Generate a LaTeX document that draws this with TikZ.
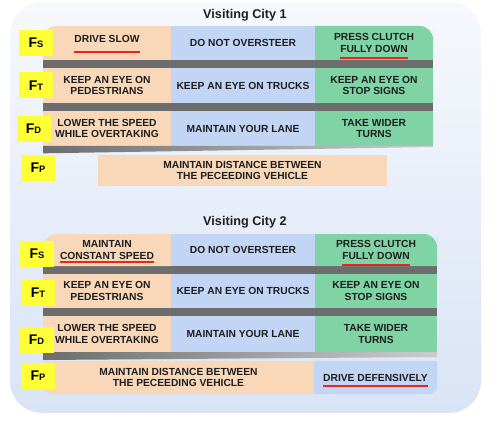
\documentclass[tikz,border=0pt]{standalone}
\usepackage{fontspec}
\setmainfont{Liberation Sans}
\usetikzlibrary{positioning}

\pgfdeclarelayer{back}
\pgfsetlayers{back,main}

\definecolor{peach}{HTML}{F8D8B9}
\definecolor{skyblue}{HTML}{C2D5F5}
\definecolor{mint}{HTML}{7FD3A5}
\definecolor{hilite}{HTML}{FFFF38}
\definecolor{bargray}{HTML}{6D6D6D}
\definecolor{ulred}{HTML}{E8261E}
\definecolor{inkc}{HTML}{1E1E1E}
\definecolor{panelTop}{HTML}{F6F8FC}
\definecolor{panelBot}{HTML}{D9E4F6}

\newcommand\px{0.75pt}
\newcommand\fsub[1]{{\fontsize{7}{8}\selectfont #1}}
\newcommand\redul[2][4.5pt]{\setbox0=\hbox{#2}\rlap{\smash{\color{ulred}\rule[-#1]{\wd0}{1.5pt}}}\box0}

\begin{document}
\begin{tikzpicture}[x=0.75pt, y=-0.75pt,
        cellbox/.style={inner sep=0pt, outer sep=0pt, align=center, text=inkc, font=\fontsize{7.7}{8.8}\selectfont\bfseries},
        colw/.style={minimum width=#1*\px},
        rowh/.style={minimum height=#1*\px},
        peachcell/.style={cellbox, fill=peach},
        bluecell/.style={cellbox, fill=skyblue},
        mintcell/.style={cellbox, fill=mint},
        flabel/.style={fill=hilite, inner sep=0pt, minimum width=34*\px, minimum height=26*\px, text=black, font=\fontsize{10.5}{12}\selectfont\bfseries},
        city/.style={text=inkc, font=\fontsize{9.5}{11}\selectfont\bfseries},
        taper/.style={left color=bargray, right color=bargray!35!white}
    ]
    \useasboundingbox (0,0) rectangle (496,424);

    % city 1
    \node[city] (city1) at (245,15) {Visiting City 1};
    \node[peachcell, fill=none, colw=128, rowh=34, anchor=north west, text depth=6pt] (s1a) at (43,26) {\redul[8pt]{DRIVE SLOW}};
    \node[bluecell, colw=144, rowh=34, right=0pt of s1a] (s1b) {DO NOT OVERSTEER};
    \node[mintcell, fill=none, colw=118, rowh=34, right=0pt of s1b] (s1c) {PRESS CLUTCH\\\redul[5.2pt]{FULLY DOWN}};

    \node[peachcell, colw=128, rowh=35, anchor=north west] (t1a) at ([yshift=-6pt]s1a.south west) {KEEP AN EYE ON\\PEDESTRIANS};
    \node[bluecell, colw=144, rowh=35, right=0pt of t1a] (t1b) {KEEP AN EYE ON TRUCKS};
    \node[mintcell, colw=118, rowh=35, right=0pt of t1b] (t1c) {KEEP AN EYE ON\\STOP SIGNS};

    \node[peachcell, colw=128, rowh=35, anchor=north west] (d1a) at ([yshift=-6pt]t1a.south west) {LOWER THE SPEED\\WHILE OVERTAKING};
    \node[bluecell, colw=144, rowh=35, right=0pt of d1a] (d1b) {MAINTAIN YOUR LANE};
    \node[mintcell, colw=118, rowh=35, right=0pt of d1b] (d1c) {TAKE WIDER\\TURNS};

    \shade[taper] (d1a.south west) -- (d1c.south east) -- ++(0,1) -- ([yshift=-5.5pt]d1a.south west) -- cycle;
    \node[peachcell, colw=289, rowh=31, anchor=north west] (p1) at (98,155) {MAINTAIN DISTANCE BETWEEN\\THE PECEEDING VEHICLE};

    \node[flabel] (fs1) at (36,43) {F\fsub{S}};
    \node[flabel] (ft1) at (36,85.5) {F\fsub{T}};
    \node[flabel] (fd1) at (33.5,129) {F\fsub{D}};
    \node[flabel] (fp1) at (38,168) {F\fsub{P}};

    % city 2
    \node[city] (city2) at (245,222) {Visiting City 2};
    \node[peachcell, fill=none, colw=128, rowh=32, anchor=north west] (s2a) at (43,234) {MAINTAIN\\\redul[3pt]{CONSTANT SPEED}};
    \node[bluecell, colw=144, rowh=32, right=0pt of s2a] (s2b) {DO NOT OVERSTEER};
    \node[mintcell, fill=none, colw=122, rowh=32, right=0pt of s2b] (s2c) {PRESS CLUTCH\\\redul[5.2pt]{FULLY DOWN}};

    \node[peachcell, colw=128, rowh=34, anchor=north west] (t2a) at ([yshift=-6pt]s2a.south west) {KEEP AN EYE ON\\PEDESTRIANS};
    \node[bluecell, colw=144, rowh=34, right=0pt of t2a] (t2b) {KEEP AN EYE ON TRUCKS};
    \node[mintcell, colw=122, rowh=34, right=0pt of t2b] (t2c) {KEEP AN EYE ON\\STOP SIGNS};

    \node[peachcell, colw=128, rowh=36, anchor=north west] (d2a) at ([yshift=-6pt]t2a.south west) {LOWER THE SPEED\\WHILE OVERTAKING};
    \node[bluecell, colw=144, rowh=36, right=0pt of d2a] (d2b) {MAINTAIN YOUR LANE};
    \node[mintcell, colw=122, rowh=36, right=0pt of d2b] (d2c) {TAKE WIDER\\TURNS};

    \shade[taper] (d2a.south west) -- (d2c.south east) -- ++(0,5) -- ([yshift=-6pt]d2a.south west) -- cycle;
    \node[peachcell, fill=none, colw=271, rowh=33, anchor=north west] (p2a) at ([yshift=-6.75pt]d2a.south west) {MAINTAIN DISTANCE BETWEEN\\THE PECEEDING VEHICLE};
    \node[bluecell, fill=none, colw=123, rowh=33, right=0pt of p2a] (p2b) {\redul[4.3pt]{DRIVE DEFENSIVELY}};

    \node[flabel] (fs2) at (37,254) {F\fsub{S}};
    \node[flabel] (ft2) at (38,292.5) {F\fsub{T}};
    \node[flabel] (fd2) at (36.5,340) {F\fsub{D}};
    \node[flabel] (fp2) at (38,375.5) {F\fsub{P}};

    % panel, bars and rounded cells behind
    \begin{pgfonlayer}{back}
        \shade[top color=panelTop, bottom color=panelBot, rounded corners=24pt] (10,2) rectangle (481,413);
        \fill[bargray] (s1a.south west) rectangle (d1c.north east);
        \fill[bargray] (s2a.south west) rectangle (d2c.north east);
        \fill[peach] (s1a.north) [rounded corners=10pt] -| (s1a.west) [sharp corners] |- (s1a.south east) |- (s1a.north) -- cycle;
        \fill[mint] (s1c.north) [rounded corners=10pt] -| (s1c.east) [sharp corners] |- (s1c.south west) |- (s1c.north) -- cycle;
        \fill[peach] (s2a.north) [rounded corners=10pt] -| (s2a.west) [sharp corners] |- (s2a.south east) |- (s2a.north) -- cycle;
        \fill[mint] (s2c.north) [rounded corners=10pt] -| (s2c.east) [sharp corners] |- (s2c.south west) |- (s2c.north) -- cycle;
        \fill[peach] (p2a.south) [rounded corners=6pt] -| (p2a.west) [sharp corners] |- (p2a.north east) |- (p2a.south) -- cycle;
        \fill[skyblue] (p2b.south) [rounded corners=6pt] -| (p2b.east) [sharp corners] |- (p2b.north west) |- (p2b.south) -- cycle;
    \end{pgfonlayer}
\end{tikzpicture}
\end{document}
